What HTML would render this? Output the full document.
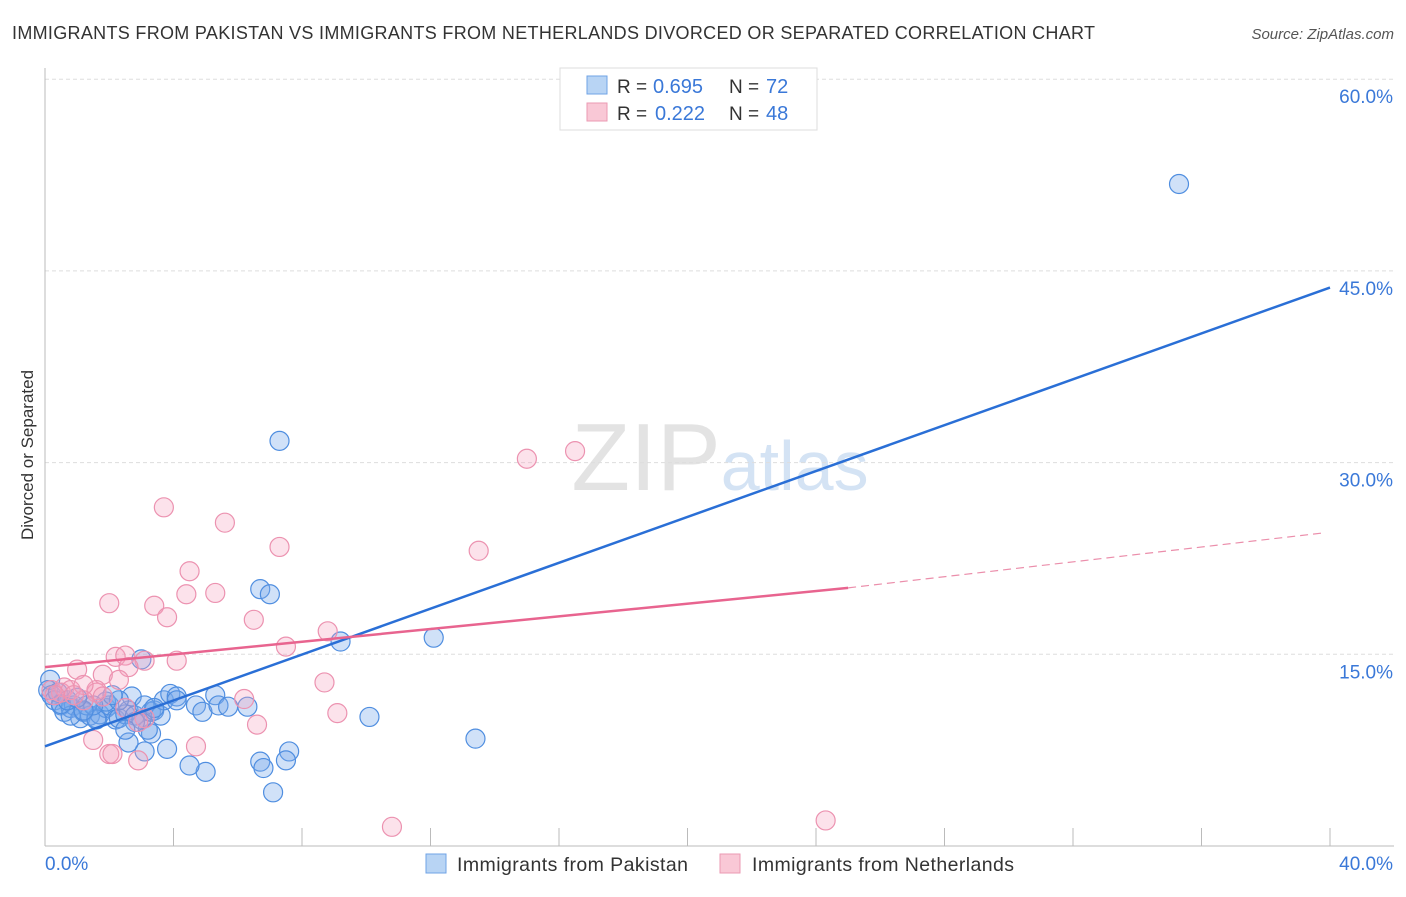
<!DOCTYPE html>
<html><head><meta charset="utf-8"><style>
body{margin:0;background:#fff;font-family:"Liberation Sans",sans-serif}
svg text{font-family:"Liberation Sans",sans-serif}
</style></head><body>
<svg id="chart" width="1406" height="892">
<text x="12" y="39" font-size="18" fill="#333" textLength="1083">IMMIGRANTS FROM PAKISTAN VS IMMIGRANTS FROM NETHERLANDS DIVORCED OR SEPARATED CORRELATION CHART</text>
<text x="1394" y="39" font-size="15" fill="#555" font-style="italic" text-anchor="end">Source: ZipAtlas.com</text>
<text x="720" y="490" font-size="96" fill="#e3e3e3" text-anchor="middle" font-family="Liberation Serif">ZIP<tspan fill="#d4e3f4" font-family="Liberation Sans" font-size="70">atlas</tspan></text>
<g id="grid"></g>
<g id="axes"></g>
<g id="pts"></g>
<g id="lines"></g>
<text transform="translate(33,455) rotate(-90)" font-size="17" fill="#333" text-anchor="middle">Divorced or Separated</text>
<g>
<rect x="560" y="68" width="257" height="62" fill="#fff" stroke="#ddd"/>
<rect x="587" y="76" width="20" height="18" fill="#b8d4f4" stroke="#6fa3e6"/>
<rect x="587" y="103" width="20" height="18" fill="#f9c8d6" stroke="#eb9ab3"/>
<text x="617" y="93" font-size="19" fill="#333">R =</text>
<text x="653" y="93" font-size="20" fill="#3a78d8">0.695</text>
<text x="729" y="93" font-size="19" fill="#333">N =</text>
<text x="766" y="93" font-size="20" fill="#3a78d8">72</text>
<text x="617" y="120" font-size="19" fill="#333">R =</text>
<text x="655" y="120" font-size="20" fill="#3a78d8">0.222</text>
<text x="729" y="120" font-size="19" fill="#333">N =</text>
<text x="766" y="120" font-size="20" fill="#3a78d8">48</text>
</g>
<g>
<rect x="426" y="854" width="20" height="19" fill="#b8d4f4" stroke="#6fa3e6"/>
<text x="457" y="871" font-size="19.5" fill="#333" textLength="231">Immigrants from Pakistan</text>
<rect x="720" y="854" width="20" height="19" fill="#f9c8d6" stroke="#eb9ab3"/>
<text x="752" y="871" font-size="19.5" fill="#333" textLength="262">Immigrants from Netherlands</text>
</g>
</svg>
<script>
const blueX=[35.3,7.3,6.7,7.0,12.1,9.2,3.0,10.1,13.4,7.1,5.0,4.5,6.7,6.8,7.6,7.5,3.8,3.1,2.6,3.3,3.2,0.16,0.1,0.2,0.3,0.5,0.6,0.8,0.9,1.1,1.2,1.4,1.6,1.7,1.9,2.0,2.2,2.3,2.5,2.6,2.7,2.8,3.0,3.3,3.4,3.6,3.7,3.9,4.1,4.1,4.7,4.9,5.3,5.4,5.7,6.3,1.9,1.3,0.8,0.4,0.5,2.3,1.6,3.1,3.4,2.8,2.1,1.5,2.5,1.2,0.7,1.0];
const blueY=[51.8,31.7,20.1,19.7,16.3,16.0,14.6,10.1,8.4,4.2,5.8,6.3,6.6,6.1,7.4,6.7,7.6,7.4,8.1,8.8,9.1,13.0,12.2,11.8,11.4,11.0,10.5,10.8,11.0,10.0,10.5,10.2,10.0,10.3,10.8,11.0,9.9,10.0,10.3,10.6,11.7,10.2,9.9,10.5,10.6,10.2,11.4,11.9,11.7,11.4,11.0,10.5,11.8,11.0,10.9,10.9,11.3,11.0,10.2,12.0,11.1,11.4,9.9,11.0,10.8,9.7,11.8,11.0,9.1,10.6,11.4,11.6];
const pinkX=[16.5,15.0,3.7,5.6,7.3,13.5,4.5,2.0,3.4,5.3,4.4,3.8,6.5,8.8,7.5,2.2,2.5,3.1,4.1,1.0,2.6,1.8,0.2,0.5,0.6,0.8,0.3,1.6,1.6,1.2,8.7,6.2,1.8,2.3,6.6,9.1,4.7,2.0,2.1,2.9,1.5,10.8,24.3,3.1,2.9,1.2,0.9,2.5];
const pinkY=[30.9,30.3,26.5,25.3,23.4,23.1,21.5,19.0,18.8,19.8,19.7,17.9,17.7,16.8,15.6,14.8,14.9,14.5,14.5,13.8,14.0,13.4,12.2,12.0,12.4,12.2,11.8,12.0,12.2,12.6,12.8,11.5,11.7,13.0,9.5,10.4,7.8,7.2,7.2,6.7,8.3,1.5,2.0,10.0,9.7,11.4,11.8,10.8];
const yTicks=[15,30,45,60];
const xTicks=[0,4,8,12,16,20,24,28,32,36,40];
const blueTrend=[7.8,43.7];
const pinkTrend=[14.0,20.2,24.5];
const pinkSolidEnd=25.0, pinkDashEnd=39.8;

const NS="http://www.w3.org/2000/svg";
const sx=v=>45+v/40*1285;
const sy=v=>846-v/15*191.7;
function mk(tag,attrs,parent){const e=document.createElementNS(NS,tag);for(const k in attrs)e.setAttribute(k,attrs[k]);parent.appendChild(e);return e;}
const grid=document.getElementById('grid'),axes=document.getElementById('axes'),pts=document.getElementById('pts'),lines=document.getElementById('lines');
yTicks.forEach(t=>{
  const l=mk('line',{x1:45,x2:1394,y1:sy(t),y2:sy(t),stroke:'#ddd','stroke-dasharray':'4,3'},grid);
  
  
  const tx=mk('text',{x:1393,y:sy(t)+24,'font-size':19,fill:'#3a78d8','text-anchor':'end'},axes);
  tx.textContent=t.toFixed(1)+'%';
  
  
});
const ax=mk('line',{x1:45,x2:1394,y1:846,y2:846,stroke:'#bbb'},axes);


const ay=mk('line',{x1:45,x2:45,y1:68,y2:846,stroke:'#bbb'},axes);


xTicks.forEach(t=>{
  const l=mk('line',{x1:sx(t),x2:sx(t),y1:828,y2:846,stroke:'#bbb'},axes);
  
  
});
[[0,45,'start'],[40,1393,'end']].forEach(([v,x,a])=>{
  const tx=mk('text',{x:x,y:870,'font-size':19,fill:'#3a78d8','text-anchor':a},axes);
  tx.textContent=v.toFixed(1)+'%';
  
  
});
blueX.forEach((x,i)=>{
  const c=mk('circle',{cx:sx(x),cy:sy(blueY[i]),r:9.5,fill:'rgba(120,170,235,0.35)',stroke:'#4f8ee0','stroke-width':1.2},pts);
  
  
});
pinkX.forEach((x,i)=>{
  const c=mk('circle',{cx:sx(x),cy:sy(pinkY[i]),r:9.5,fill:'rgba(245,160,190,0.3)',stroke:'#ec92b0','stroke-width':1.2},pts);
  
  
});
const bl=mk('line',{x1:sx(0),y1:sy(blueTrend[0]),x2:sx(40),y2:sy(blueTrend[1]),stroke:'#2a6fd6','stroke-width':2.5},lines);


const pl=mk('line',{x1:sx(0),y1:sy(pinkTrend[0]),x2:sx(pinkSolidEnd),y2:sy(pinkTrend[1]),stroke:'#e8648f','stroke-width':2.5},lines);


const pd=mk('line',{x1:sx(pinkSolidEnd),y1:sy(pinkTrend[1]),x2:sx(pinkDashEnd),y2:sy(pinkTrend[2]),stroke:'#eb8eab','stroke-width':1.2,'stroke-dasharray':'8,5'},lines);


</script>
</body></html>
